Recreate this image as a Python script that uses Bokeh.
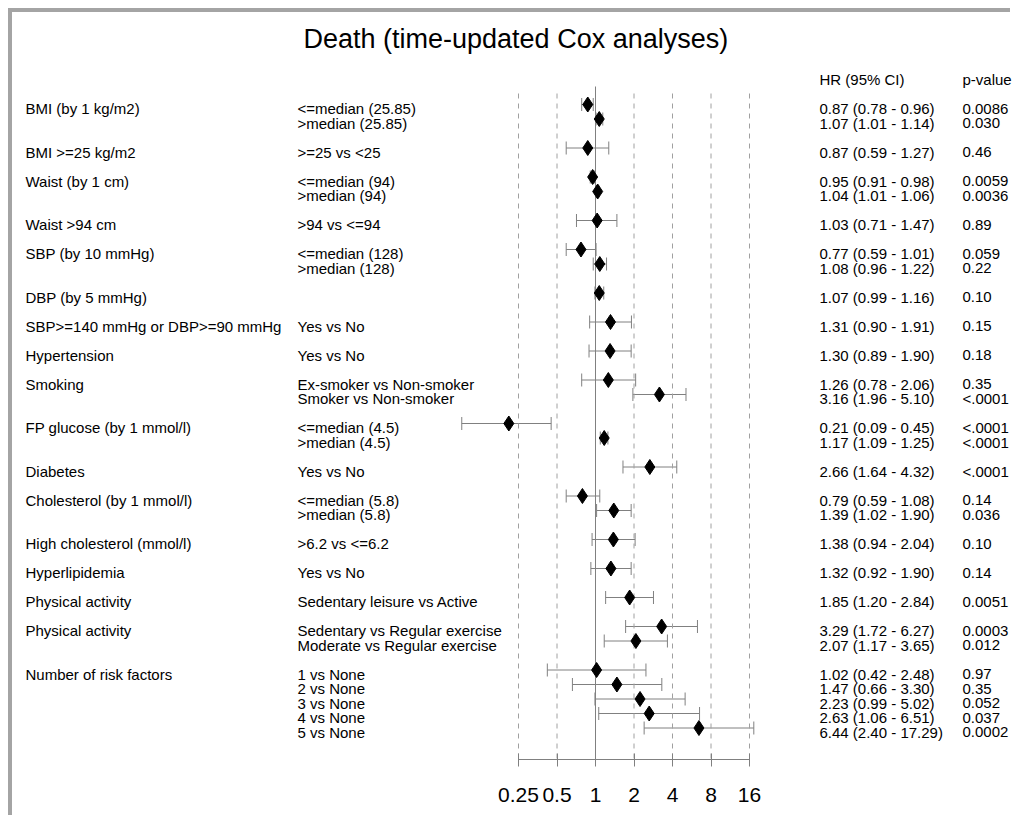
import math
from bokeh.plotting import figure
from bokeh.models import ColumnDataSource, Range1d, FixedTicker, Whisker, TeeHead, LinearScale
from bokeh.core.properties import value
from bokeh.embed import file_html
from bokeh.resources import INLINE

# ---------------- data ----------------
title_text = "Death (time-updated Cox analyses)"
hr_header = "HR (95% CI)"
p_header = "p-value"

groups = [
    "BMI (by 1 kg/m2)", "BMI >=25 kg/m2", "Waist (by 1 cm)", "Waist >94 cm",
    "SBP (by 10 mmHg)", "DBP (by 5 mmHg)", "SBP>=140 mmHg or DBP>=90 mmHg",
    "Hypertension", "Smoking", "FP glucose (by 1 mmol/l)", "Diabetes",
    "Cholesterol (by 1 mmol/l)", "High cholesterol (mmol/l)", "Hyperlipidemia",
    "Physical activity", "Physical activity", "Number of risk factors",
]
group_sizes = [2, 1, 2, 1, 2, 1, 1, 1, 2, 2, 1, 2, 1, 1, 1, 2, 5]

comparisons = [
    "<=median (25.85)", ">median (25.85)",
    ">=25 vs <25",
    "<=median (94)", ">median (94)",
    ">94 vs <=94",
    "<=median (128)", ">median (128)",
    "",
    "Yes vs No",
    "Yes vs No",
    "Ex-smoker vs Non-smoker", "Smoker vs Non-smoker",
    "<=median (4.5)", ">median (4.5)",
    "Yes vs No",
    "<=median (5.8)", ">median (5.8)",
    ">6.2 vs <=6.2",
    "Yes vs No",
    "Sedentary leisure vs Active",
    "Sedentary vs Regular exercise", "Moderate vs Regular exercise",
    "1 vs None", "2 vs None", "3 vs None", "4 vs None", "5 vs None",
]
hr = [0.87, 1.07, 0.87, 0.95, 1.04, 1.03, 0.77, 1.08, 1.07, 1.31, 1.30, 1.26, 3.16,
      0.21, 1.17, 2.66, 0.79, 1.39, 1.38, 1.32, 1.85, 3.29, 2.07, 1.02, 1.47, 2.23,
      2.63, 6.44]
ci_low = [0.78, 1.01, 0.59, 0.91, 1.01, 0.71, 0.59, 0.96, 0.99, 0.90, 0.89, 0.78, 1.96,
          0.09, 1.09, 1.64, 0.59, 1.02, 0.94, 0.92, 1.20, 1.72, 1.17, 0.42, 0.66, 0.99,
          1.06, 2.40]
ci_high = [0.96, 1.14, 1.27, 0.98, 1.06, 1.47, 1.01, 1.22, 1.16, 1.91, 1.90, 2.06, 5.10,
           0.45, 1.25, 4.32, 1.08, 1.90, 2.04, 1.90, 2.84, 6.27, 3.65, 2.48, 3.30, 5.02,
           6.51, 17.29]
p_values = ["0.0086", "0.030", "0.46", "0.0059", "0.0036", "0.89", "0.059", "0.22",
            "0.10", "0.15", "0.18", "0.35", "<.0001", "<.0001", "<.0001", "<.0001",
            "0.14", "0.036", "0.10", "0.14", "0.0051", "0.0003", "0.012", "0.97",
            "0.35", "0.052", "0.037", "0.0002"]
ticks = [0.25, 0.5, 1, 2, 4, 8, 16]
tick_labels = ["0.25", "0.5", "1", "2", "4", "8", "16"]
null_value = 1

# ---------------- layout (page pixels) ----------------
W, H = 1002, 807       # canvas size
ORIGIN = 12            # page offset of the canvas
X_ONE = 595            # page x of HR = 1
PX_PER_DOUBLING = 38.5
ROW0 = 104             # page y of first row
ROW_PX = 14.5
AXIS_Y = 759
TEXT_DY = 4
COL_GROUP, COL_COMP, COL_HR, COL_P = 25, 297, 819, 962


def hr_at(px):
    return 2 ** ((px - X_ONE) / PX_PER_DOUBLING)


def slot_at(py):
    return (py - ROW0) / ROW_PX


# row slots: one blank slot between groups
slots, group_slot = [], []
k = 0
for n in group_sizes:
    group_slot.append(k)
    slots.extend(range(k, k + n))
    k += n + 1

hr_text = ["%.2f (%.2f - %.2f)" % (h, lo, hi) for h, lo, hi in zip(hr, ci_low, ci_high)]

src = ColumnDataSource(dict(k=slots, hr=hr, lo=ci_low, hi=ci_high,
                            comp=comparisons, hrt=hr_text, pv=p_values))

p = figure(width=W, height=H, output_backend="svg", toolbar_location=None,
           x_axis_type="log",
           x_range=Range1d(hr_at(ORIGIN), hr_at(ORIGIN + W)),
           y_range=Range1d(slot_at(AXIS_Y), slot_at(ORIGIN)),
           y_axis_location=None,
           min_border_left=0, min_border_right=0, min_border_top=0,
           min_border_bottom=ORIGIN + H - AXIS_Y)
p.extra_x_ranges = {"px": Range1d(ORIGIN, ORIGIN + W)}
p.extra_x_scales = {"px": LinearScale()}
p.outline_line_color = None
p.grid.grid_line_color = None
p.background_fill_color = "white"
p.border_fill_color = "white"
# grey frame on the left and top edges, drawn as an offset shadow
p.styles = {"margin-left": "%dpx" % ORIGIN, "margin-top": "%dpx" % ORIGIN,
            "box-shadow": "-4px -4px 0 0 #a4a4a4"}

ax = p.xaxis[0]
ax.ticker = FixedTicker(ticks=ticks)
ax.major_label_overrides = {t: l for t, l in zip(ticks, tick_labels)}
ax.bounds = (ticks[0], ticks[-1])
ax.axis_line_color = "#808080"
ax.major_tick_line_color = "#808080"
ax.minor_tick_line_color = None
ax.major_tick_in = 6
ax.major_tick_out = 7
ax.major_label_standoff = 21
ax.major_label_text_font = "Liberation Sans"
ax.major_label_text_font_size = "21px"
ax.major_label_text_color = "black"

# reference lines
dash_ticks = [t for t in ticks if t != null_value]
p.segment(x0=dash_ticks, x1=dash_ticks,
          y0=[slot_at(93)] * len(dash_ticks), y1=[slot_at(AXIS_Y)] * len(dash_ticks),
          line_color="#a0a0a0", line_dash="5 5", line_width=1)
p.segment(x0=[null_value], x1=[null_value], y0=[slot_at(86)], y1=[slot_at(AXIS_Y)],
          line_color="#808080", line_width=1)

# confidence intervals and estimates
p.add_layout(Whisker(source=src, base="k", lower="lo", upper="hi", dimension="width",
                     line_color="#808080", line_width=1,
                     lower_head=TeeHead(size=13, line_color="#808080", line_width=1),
                     upper_head=TeeHead(size=13, line_color="#808080", line_width=1)))
p.scatter("hr", "k", source=src, marker="diamond", size=15, color="black")

font = value("Liberation Sans")
common = dict(x_range_name="px", text_font=font, text_font_size="15px",
              text_baseline="middle", text_align="left", text_color="black", y_offset=TEXT_DY)

p.text(x=[COL_GROUP] * len(groups), y=group_slot, text=groups, **common)
p.text(x=[COL_COMP] * len(slots), y=slots, text=comparisons, **common)
p.text(x=[COL_HR] * len(slots), y=slots, text=hr_text, **common)
p.text(x=[COL_P] * len(slots), y=slots, text=p_values, **common)
p.text(x=[COL_HR, COL_P], y=[-2, -2], text=[hr_header, p_header], **common)

p.text(x=[303], y=[slot_at(38)], text=[title_text], x_range_name="px",
       text_font=font, text_font_size="27px", text_baseline="middle",
       text_align="left", text_color="black")

open("out.html", "w").write(file_html(p, INLINE))
